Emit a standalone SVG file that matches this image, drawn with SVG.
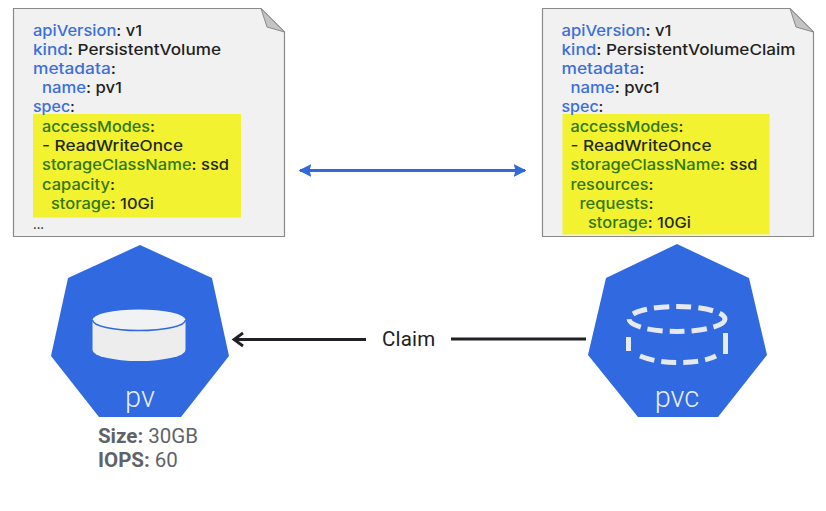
<svg xmlns="http://www.w3.org/2000/svg" width="826" height="511" viewBox="0 0 826 511">
<style>
.doc{fill:#f1f1f1;stroke:#8a8a8a;stroke-width:1.2}
.fold{fill:#c4c4c4;stroke:#8a8a8a;stroke-width:1}
.hl{fill:#f2f230}
.y{font-family:"Inter","Noto Sans",sans-serif;font-size:15px;font-weight:500;fill:#1f1f1f}
.b{fill:#3b6fdc}.g{fill:#33780f}.k{fill:#1f2a10}
.hept{fill:#3069e0}
.lab{font-family:"Roboto",sans-serif;font-size:29px;font-weight:300;fill:#e8edf8;text-anchor:middle}
.info{font-family:"Roboto",sans-serif;font-size:20.5px;fill:#5f6368}
.info .s{font-weight:700}
.disk{fill:#ededed}
.dash{fill:none;stroke:#e6e9f0;stroke-width:5;stroke-dasharray:15 7}
.side{fill:none;stroke:#e6e9f0;stroke-width:5}
</style>
<defs>
<marker id="bl" viewBox="0 0 10 10" refX="9" refY="5" markerWidth="4.500" markerHeight="4.500" orient="auto-start-reverse"><path d="M0 0L10 5L0 10L1.500 5Z" fill="#2f69dc"/></marker>
</defs>
<rect width="826" height="511" fill="#fff"/>
<g id="connectors">
<line x1="300" y1="170.500" x2="525" y2="170.500" stroke="#2f69dc" stroke-width="2.800" marker-start="url(#bl)" marker-end="url(#bl)"/>
<line x1="366" y1="339.500" x2="235" y2="339.500" stroke="#202124" stroke-width="2.800"/>
<path d="M243 333L234 339.500L243 346" fill="none" stroke="#202124" stroke-width="2.800"/>
<line x1="451" y1="339" x2="586" y2="339" stroke="#202124" stroke-width="2.800"/>
<text x="382" y="346" font-family="Roboto,sans-serif" font-size="20.500" fill="#202124" letter-spacing=".2">Claim</text>
</g>
<g id="pv-yaml">
<path class="doc" d="M13.500 8.500H261L284.500 32V236.500H13.500Z"/>
<path class="fold" d="M261 8.500L284.500 32L267 27Z"/>
<rect class="hl" x="33" y="114" width="208" height="103.500"/>
<text class="y" x="33" y="36" textLength="109" lengthAdjust="spacingAndGlyphs"><tspan class="b">apiVersion</tspan>: v1</text>
<text class="y" x="33" y="55" textLength="188" lengthAdjust="spacingAndGlyphs"><tspan class="b">kind</tspan>: PersistentVolume</text>
<text class="y" x="33" y="74" textLength="83" lengthAdjust="spacingAndGlyphs"><tspan class="b">metadata</tspan>:</text>
<text class="y" x="42" y="93" textLength="80" lengthAdjust="spacingAndGlyphs"><tspan class="b">name</tspan>: pv1</text>
<text class="y" x="33" y="112" textLength="42" lengthAdjust="spacingAndGlyphs"><tspan class="b">spec</tspan>:</text>
<text class="y" x="42" y="132" textLength="113" lengthAdjust="spacingAndGlyphs"><tspan class="g">accessModes</tspan><tspan class="k">:</tspan></text>
<text class="y k" x="42" y="151" textLength="141" lengthAdjust="spacingAndGlyphs">- ReadWriteOnce</text>
<text class="y" x="42" y="170" textLength="187" lengthAdjust="spacingAndGlyphs"><tspan class="g">storageClassName</tspan><tspan class="k">: ssd</tspan></text>
<text class="y" x="42" y="190" textLength="73" lengthAdjust="spacingAndGlyphs"><tspan class="g">capacity</tspan><tspan class="k">:</tspan></text>
<text class="y" x="51" y="209" textLength="103" lengthAdjust="spacingAndGlyphs"><tspan class="g">storage</tspan><tspan class="k">: 10Gi</tspan></text>
<text class="y" x="33" y="229" style="font-size:11px;font-weight:700">...</text>
</g>
<g id="pvc-yaml">
<path class="doc" d="M542.500 8.500H790L813.500 32V236.500H542.500Z"/>
<path class="fold" d="M790 8.500L813.500 32L796 27Z"/>
<rect class="hl" x="562.500" y="114" width="207" height="120.500"/>
<text class="y" x="561.500" y="36" textLength="110" lengthAdjust="spacingAndGlyphs"><tspan class="b">apiVersion</tspan>: v1</text>
<text class="y" x="561.500" y="55" textLength="234" lengthAdjust="spacingAndGlyphs"><tspan class="b">kind</tspan>: PersistentVolumeClaim</text>
<text class="y" x="561.500" y="74" textLength="83" lengthAdjust="spacingAndGlyphs"><tspan class="b">metadata</tspan>:</text>
<text class="y" x="570.500" y="93" textLength="89" lengthAdjust="spacingAndGlyphs"><tspan class="b">name</tspan>: pvc1</text>
<text class="y" x="561.500" y="112" textLength="42" lengthAdjust="spacingAndGlyphs"><tspan class="b">spec</tspan>:</text>
<text class="y" x="570.500" y="132" textLength="113" lengthAdjust="spacingAndGlyphs"><tspan class="g">accessModes</tspan><tspan class="k">:</tspan></text>
<text class="y k" x="570.500" y="151" textLength="141" lengthAdjust="spacingAndGlyphs">- ReadWriteOnce</text>
<text class="y" x="570.500" y="170" textLength="187" lengthAdjust="spacingAndGlyphs"><tspan class="g">storageClassName</tspan><tspan class="k">: ssd</tspan></text>
<text class="y" x="570.500" y="190" textLength="83" lengthAdjust="spacingAndGlyphs"><tspan class="g">resources</tspan><tspan class="k">:</tspan></text>
<text class="y" x="579.500" y="209" textLength="74" lengthAdjust="spacingAndGlyphs"><tspan class="g">requests</tspan><tspan class="k">:</tspan></text>
<text class="y" x="588" y="228" textLength="103" lengthAdjust="spacingAndGlyphs"><tspan class="g">storage</tspan><tspan class="k">: 10Gi</tspan></text>
</g>
<g id="pv">
<polygon class="hept" points="140,245 212,278 229,356 181,417 99,417 51,356 68,278"/>
<path class="disk" d="M92.500 320V350A46.500 11 0 0 0 185.500 350V320Z"/>
<ellipse cx="139" cy="320" rx="46.500" ry="10.500" fill="#f1f2f4"/>
<path d="M92.500 320A46.500 10.500 0 0 0 185.500 320" fill="none" stroke="#3069e0" stroke-width="1.500"/>
<text class="lab" x="140" y="407">pv</text>
<text class="info" x="98" y="443"><tspan class="s">Size:</tspan> 30GB</text>
<text class="info" x="98" y="467"><tspan class="s">IOPS:</tspan> 60</text>
</g>
<g id="pvc">
<polygon class="hept" points="677,244 749,278 767,355 718,417 638,417 588,355 606,278"/>
<ellipse class="dash" cx="677" cy="319" rx="48" ry="12.500"/>
<path class="side" d="M628.500 337V351M725.500 333V354"/>
<path class="dash" d="M640 356C652 361 664 362.500 677 362.500C692 362.500 706 361 716 356"/>
<text class="lab" x="677" y="407">pvc</text>
</g>
</svg>
